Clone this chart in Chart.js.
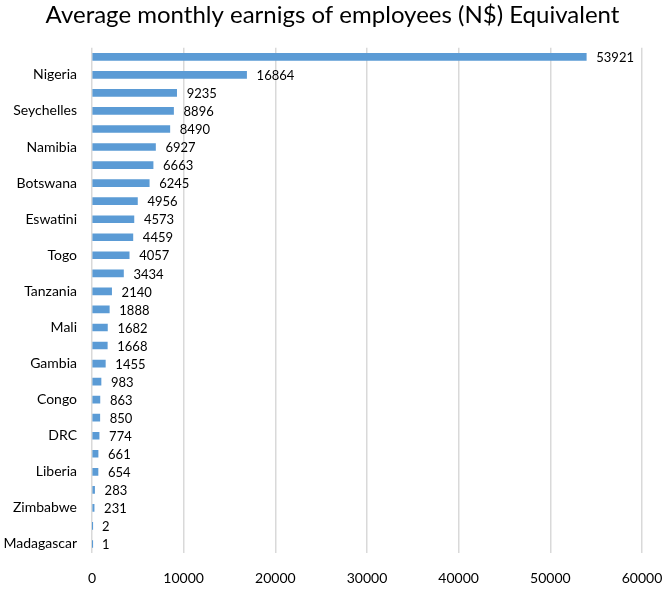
<!DOCTYPE html>
<html>
<head>
<meta charset="utf-8">
<script src="https://cdn.jsdelivr.net/npm/chart.js@4.4.1/dist/chart.umd.min.js"></script>
<style>
  html, body { margin: 0; padding: 0; background: #fff; }
  #wrap { width: 665px; height: 590px; }
</style>
</head>
<body>
<div id="wrap"><canvas id="canvas" width="665" height="590"></canvas></div>
<script>
// Datos del gráfico (solo se leen las etiquetas visibles en la imagen)
const paises = ["", "Nigeria", "", "Seychelles", "", "Namibia", "", "Botswana", "", "Eswatini",
  "", "Togo", "", "Tanzania", "", "Mali", "", "Gambia", "", "Congo",
  "", "DRC", "", "Liberia", "", "Zimbabwe", "", "Madagascar"];
const ganancias = [53921, 16864, 9235, 8896, 8490, 6927, 6663, 6245, 4956, 4573,
  4459, 4057, 3434, 2140, 1888, 1682, 1668, 1455, 983, 863,
  850, 774, 661, 654, 283, 231, 2, 1];
const ticksX = [0, 10000, 20000, 30000, 40000, 50000, 60000];
const titulo = "Average monthly earnigs of employees (N$) Equivalent";

const fuente = "Lato, 'Open Sans', sans-serif";

// Plugin para escribir el valor al final de cada barra
const etiquetasValor = {
  id: "etiquetasValor",
  afterDatasetsDraw(chart) {
    const ctx = chart.ctx;
    const meta = chart.getDatasetMeta(0);
    ctx.save();
    ctx.font = "13px " + fuente;
    ctx.fillStyle = "#000";
    ctx.textAlign = "left";
    ctx.textBaseline = "middle";
    meta.data.forEach((barra, i) => {
      ctx.fillText(String(ganancias[i]), barra.x + 10, barra.y + 1);
    });
    ctx.restore();
  }
};

new Chart(document.getElementById("canvas").getContext("2d"), {
  type: "bar",
  data: {
    labels: paises,
    datasets: [{
      data: ganancias,
      backgroundColor: "#5B9BD5",
      borderWidth: 0,
      barThickness: 7
    }]
  },
  options: {
    indexAxis: "y",
    responsive: false,
    animation: false,
    layout: { padding: 0 },
    plugins: {
      legend: { display: false },
      tooltip: { enabled: false },
      title: {
        display: true,
        text: titulo,
        color: "#000",
        font: { family: fuente, size: 24, weight: "normal" },
        padding: { top: 1, bottom: 18 }
      }
    },
    scales: {
      x: {
        min: 0,
        max: 60000,
        afterBuildTicks: (escala) => { escala.ticks = ticksX.map(v => ({ value: v })); },
        afterFit: (escala) => { escala.height = 37; escala.paddingRight = 23; escala.paddingLeft = 0; },
        grid: { color: "#d9d9d9", lineWidth: 1.5, drawTicks: false },
        border: { display: false },
        ticks: {
          color: "#000", padding: 17, maxRotation: 0,
          font: { family: fuente, size: 14 },
          callback: (v) => String(v)
        }
      },
      y: {
        afterFit: (escala) => { escala.width = 92; },
        grid: { display: false },
        border: { display: false },
        ticks: { color: "#000", autoSkip: false, padding: 7, font: { family: fuente, size: 14 } }
      }
    }
  },
  plugins: [etiquetasValor]
});
</script>
</body>
</html>
